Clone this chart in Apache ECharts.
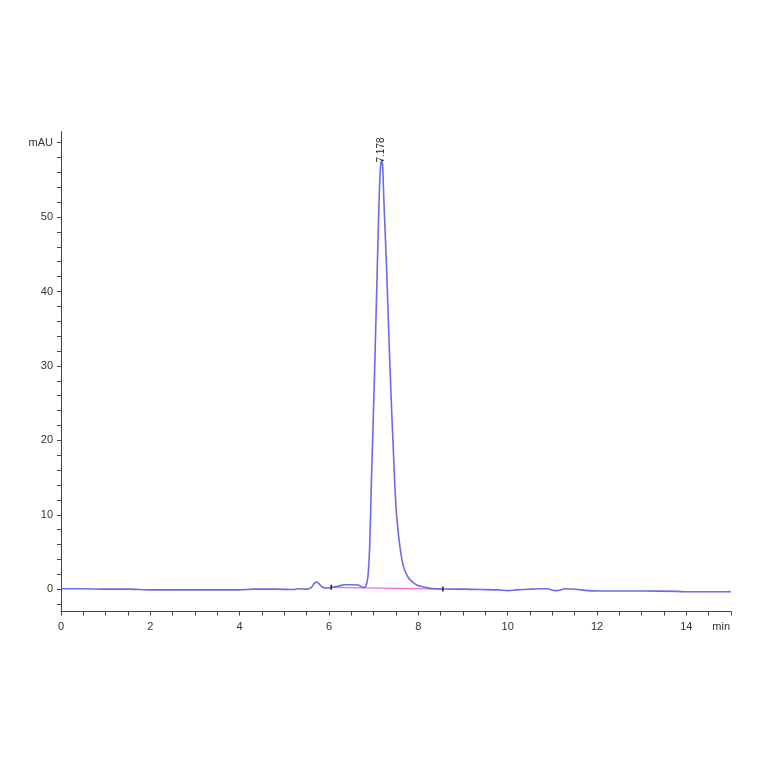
<!DOCTYPE html>
<html><head><meta charset="utf-8">
<script src="https://cdn.jsdelivr.net/npm/echarts@6/dist/echarts.min.js"></script>
<style>html,body{margin:0;padding:0;background:#fff}#c{width:764px;height:764px}</style>
</head><body><div id="c"></div>
<script>
// retention time (min) and signal (mAU)
const times = [0.0,0.5,1.0,1.5,2.0,2.5,3.0,3.5,4.0,4.3,4.8,5.2,5.3,5.5,5.6,5.68,5.73,5.78,5.85,5.95,6.05,6.1,6.2,6.35,6.5,6.65,6.74,6.8,6.83,6.87,6.91,6.95,7.02,7.08,7.12,7.15,7.178,7.2,7.23,7.29,7.37,7.47,7.52,7.59,7.67,7.77,7.88,7.99,8.15,8.3,8.55,9.0,9.4,9.8,10.0,10.2,10.5,10.7,10.9,11.0,11.1,11.3,11.5,11.8,12.0,13.0,13.8,14.0,15.0];
const signal = [0.05,0.05,0.0,0.0,-0.1,-0.1,-0.1,-0.1,-0.1,0.0,0.0,-0.05,0.05,0.0,0.2,0.85,0.95,0.7,0.3,0.15,0.2,0.3,0.4,0.6,0.6,0.55,0.3,0.25,0.5,1.6,5.6,14.5,29,43,52,56.5,57.6,57,52,43,29,14.5,9.5,5.6,3.0,1.6,0.9,0.5,0.25,0.1,0.02,0.0,-0.05,-0.1,-0.2,-0.1,0.0,0.05,0.05,-0.15,-0.2,0.05,0.0,-0.2,-0.25,-0.25,-0.3,-0.35,-0.35];
// integration baseline
const baseTimes = [6.05, 8.55];
const baseValues = [0.25, 0.02];
// peak annotation
const peakTime = 7.178;
const peakValue = 57.6;
const peakLabel = '7.178';
// axis ticks
const xLabelValues = [0,2,4,6,8,10,12,14];
const yLabelValues = [0,10,20,30,40,50,60];
const yTopLabel = 'mAU';
const xUnitLabel = 'min';

const xTicks = []; for (let v = 0; v <= 15.001; v += 0.5) xTicks.push(+v.toFixed(1));
const yTicks = []; for (let v = -2; v <= 60; v += 2) yTicks.push(v);

const chart = echarts.init(document.getElementById('c'));
chart.setOption({
  animation: false,
  backgroundColor: '#fff',
  grid: {left: 61, right: 33, top: 131.5, bottom: 152.5},
  xAxis: {
    type: 'value', min: 0, max: 15,
    axisLine: {onZero: false, lineStyle: {color: '#444', width: 1}},
    axisTick: {show: true, customValues: xTicks, length: 4, lineStyle: {color: '#444'}},
    axisLabel: {customValues: xLabelValues.concat([14.78]), margin: 10, fontSize: 11, color: '#333', fontFamily: 'Liberation Sans',
      formatter: v => v > 14.5 ? xUnitLabel : String(v)},
    splitLine: {show: false}
  },
  yAxis: {
    type: 'value', min: -3, max: 61.5,
    axisLine: {show: true, lineStyle: {color: '#444', width: 1}},
    axisTick: {show: true, customValues: yTicks, length: 4, lineStyle: {color: '#444'}},
    axisLabel: {customValues: yLabelValues, margin: 8, fontSize: 11, color: '#333', fontFamily: 'Liberation Sans',
      formatter: v => v === 60 ? yTopLabel : String(v)},
    splitLine: {show: false}
  },
  series: [
    {
      type: 'line', data: baseTimes.map((t,i)=>[t, baseValues[i]]), symbol: 'none',
      lineStyle: {color: '#f06ad8', width: 1.2}, z: 2,
      markPoint: {symbol: 'rect', symbolSize: [1.5,5], itemStyle: {color: '#222'}, label: {show: false},
        data: baseTimes.map((t,i)=>({coord: [t, baseValues[i]]}))}
    },
    {
      type: 'line', data: times.map((t,i)=>[t, signal[i]]), symbol: 'none', smooth: 0.25,
      lineStyle: {color: '#5a5ae8', width: 1.6, opacity: 0.9}, z: 3,
      markPoint: {
        symbol: 'circle', symbolSize: 0,
        data: [{coord: [peakTime, peakValue]}],
        label: {show: true, formatter: peakLabel, rotate: 90, position: [0, 2], align: 'left', verticalAlign: 'middle',
          fontSize: 10, color: '#222', fontFamily: 'Liberation Sans'}
      }
    }
  ]
});
</script></body></html>
